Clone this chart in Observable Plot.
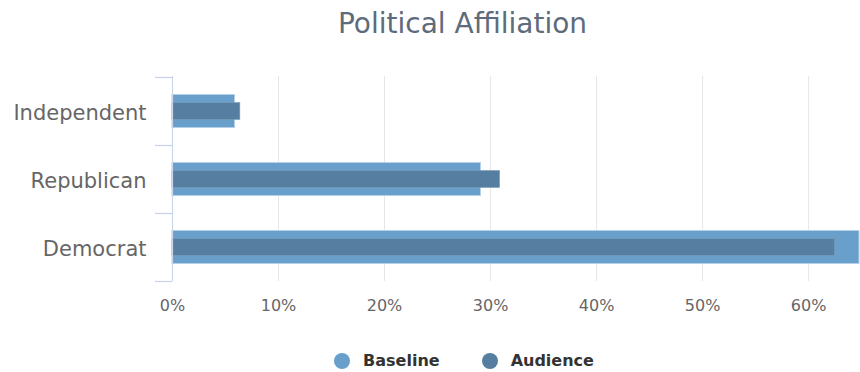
<!DOCTYPE html>
<html>
<head>
<meta charset="utf-8">
<script src="https://cdn.jsdelivr.net/npm/d3@7"></script>
<script src="https://cdn.jsdelivr.net/npm/@observablehq/plot@0.6"></script>
<style>
  html, body { margin: 0; padding: 0; background: #fff; width: 860px; height: 372px; overflow: hidden; }
  body { font-family: "DejaVu Sans", sans-serif; }
  #title { height: 60px; box-sizing: border-box; text-align: center; font-size: 28px; color: #5e6b7b; padding-left: 65px; line-height: 28px; padding-top: 10px; }
  #legend { height: 42px; display: flex; justify-content: center; align-items: center; padding-left: 68px; box-sizing: border-box; font-weight: bold; font-size: 16px; color: #333; padding-top: 19px; }
  .item { display: flex; align-items: center; margin: 0 21px; }
  .dot { width: 16px; height: 16px; border-radius: 50%; margin-right: 13px; }
  svg { display: block; }
</style>
</head>
<body>
<div id="title"></div>
<div id="chart"></div>
<div id="legend"></div>
<script>
const title = "Political Affiliation";
const categories = ["Independent", "Republican", "Democrat"];
const baseline = [5.9, 29.1, 64.8];
const audience = [6.4, 30.9, 62.5];
const xTicks = [0, 10, 20, 30, 40, 50, 60];
const seriesNames = ["Baseline", "Audience"];
const seriesColors = ["#689fcb", "#567ea0"];

const baseRows = categories.map((c, i) => ({category: c, value: baseline[i]}));
const audRows = categories.map((c, i) => ({category: c, value: audience[i]}));

document.getElementById("title").textContent = title;

const chart = Plot.plot({
  width: 860,
  height: 270,
  marginTop: 16,
  marginBottom: 49,
  marginLeft: 172,
  marginRight: 1,
  style: {fontFamily: "DejaVu Sans, sans-serif", background: "#fff", overflow: "visible"},
  x: {domain: [0, 64.8], ticks: xTicks, tickFormat: d => d + "%"},
  y: {domain: categories, padding: 0, label: null},
  marks: [
    Plot.gridX(xTicks.slice(1), {stroke: "#e6e6e6", strokeOpacity: 1, strokeWidth: 1}),
    Plot.barX(baseRows, {y: "category", x: "value", fill: seriesColors[0], stroke: "#b5d0e8", strokeWidth: 1, insetTop: 17.5, insetBottom: 17.5}),
    Plot.barX(audRows, {y: "category", x: "value", fill: seriesColors[1], stroke: "#7f9fba", strokeWidth: 0.6, insetTop: 25.5, insetBottom: 25.5}),
    Plot.ruleX([0], {stroke: "#ccd6eb", strokeWidth: 1.2}),
    Plot.axisY(categories, {tickSize: 17, tickFormat: () => "", dy: -34, stroke: "#c6d2ea", strokeOpacity: 1, strokeWidth: 1.2, label: null}),
    Plot.axisY(categories.slice(-1), {tickSize: 17, tickFormat: () => "", dy: 34, stroke: "#c6d2ea", strokeOpacity: 1, strokeWidth: 1.2, label: null}),
    Plot.axisY({tickPadding: 26, tickSize: 0, fontSize: 21, fill: "#666", dy: 1.5, label: null}),
    Plot.axisX({ticks: xTicks, tickFormat: d => d + "%", tickSize: 0, tickPadding: 18, fontSize: 16, fill: "#666", label: null})
  ]
});
document.getElementById("chart").appendChild(chart);

const legend = document.getElementById("legend");
seriesNames.forEach((name, i) => {
  const item = document.createElement("div");
  item.className = "item";
  const dot = document.createElement("span");
  dot.className = "dot";
  dot.style.background = seriesColors[i];
  const label = document.createElement("span");
  label.textContent = name;
  item.appendChild(dot);
  item.appendChild(label);
  legend.appendChild(item);
});
</script>
</body>
</html>
